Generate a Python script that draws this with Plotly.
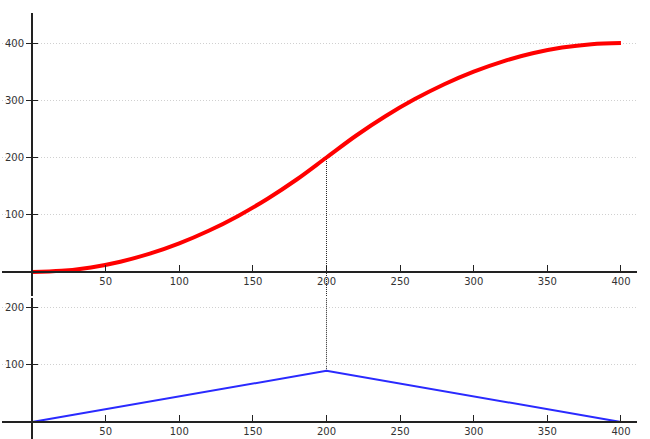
import plotly.graph_objects as go

# ---- data ----
x_top = [0, 20, 40, 60, 80, 100, 120, 140, 160, 180, 200, 220, 240, 260, 280, 300, 320, 340, 360, 380, 400]
y_top = [0, 2, 8, 18, 32, 50, 72, 98, 128, 162, 200, 238, 272, 302, 328, 350, 368, 382, 392, 398, 400]
x_bot = [0, 200, 400]
y_bot = [0, 89, 0]
x_ticks = [50, 100, 150, 200, 250, 300, 350, 400]
y_ticks_top = [100, 200, 300, 400]
y_ticks_bot = [100, 200]
guide_x = 200
guide_top_y = 200
guide_bot_y = 89

# ---- layout geometry ----
W, H = 650, 439
ml, mr, mt, mb = 2, 13, 13, 0
x_range = [-20.4, 410.9]
top_range = [-41.9, 452.4]
bot_range = [-29.6, 215.7]
top_domain = [0.3357, 1.0]
bot_domain = [0.0, 0.331]

def frac(v, rng):
    return (v - rng[0]) / (rng[1] - rng[0])

y_pos = frac(0, x_range)
x_pos_top = top_domain[0] + frac(0, top_range) * (top_domain[1] - top_domain[0])
x_pos_bot = bot_domain[0] + frac(0, bot_range) * (bot_domain[1] - bot_domain[0])

tickfont = dict(family="DejaVu Sans", size=10, color="#333")
axcol = "#222"

fig = go.Figure()
fig.add_trace(go.Scatter(x=x_top, y=y_top, mode="lines", line=dict(color="red", width=4, shape="spline"),
                         xaxis="x", yaxis="y", hoverinfo="skip"))
fig.add_trace(go.Scatter(x=x_bot, y=y_bot, mode="lines", line=dict(color="#2a2aff", width=2),
                         xaxis="x2", yaxis="y2", hoverinfo="skip"))
# dummy traces so overlay axes (inside tick halves) are drawn
fig.add_trace(go.Scatter(x=[None], y=[None], xaxis="x", yaxis="y3", showlegend=False))
fig.add_trace(go.Scatter(x=[None], y=[None], xaxis="x2", yaxis="y4", showlegend=False))

xcommon = dict(range=x_range, domain=[0, 1], anchor="free", showline=True, linecolor=axcol, linewidth=2,
               ticks="inside", ticklen=6, tickwidth=1, tickcolor=axcol, tickvals=x_ticks,
               showgrid=False, zeroline=False, tickfont=tickfont, fixedrange=True, automargin=False)
ycommon = dict(anchor="free", position=y_pos, showline=True, linecolor=axcol, linewidth=2,
               ticks="outside", ticklen=5, tickwidth=1, tickcolor=axcol,
               showgrid=True, gridcolor="#d0d0d0", griddash="1px,2px", gridwidth=1,
               zeroline=False, tickfont=tickfont, fixedrange=True, automargin=False)
yinside = dict(anchor="free", position=y_pos, showline=False, ticks="inside", ticklen=5, tickwidth=1,
               tickcolor=axcol, showticklabels=False, showgrid=False, zeroline=False, fixedrange=True,
               automargin=False)

fig.update_layout(
    width=W, height=H, margin=dict(l=ml, r=mr, t=mt, b=mb, autoexpand=False),
    paper_bgcolor="white", plot_bgcolor="white", showlegend=False,
    xaxis=dict(**xcommon, position=x_pos_top),
    xaxis2=dict(**xcommon, position=x_pos_bot),
    yaxis=dict(**ycommon, domain=top_domain, range=top_range, tickvals=y_ticks_top),
    yaxis2=dict(**ycommon, domain=bot_domain, range=bot_range, tickvals=y_ticks_bot),
    yaxis3=dict(**yinside, overlaying="y", range=top_range, tickvals=y_ticks_top),
    yaxis4=dict(**yinside, overlaying="y2", range=bot_range, tickvals=y_ticks_bot),
    shapes=[
        dict(type="line", xref="x", yref="y", x0=guide_x, x1=guide_x, y0=top_range[0], y1=guide_top_y,
             line=dict(color="#222", width=1, dash="1px,1px"), layer="below"),
        dict(type="line", xref="x2", yref="y2", x0=guide_x, x1=guide_x, y0=guide_bot_y, y1=bot_range[1],
             line=dict(color="#222", width=1, dash="1px,1px"), layer="below"),
    ],
)

fig.write_html("out.html", config={"displayModeBar": False},
               post_script="document.body.style.margin='0';document.body.style.overflow='hidden';")
